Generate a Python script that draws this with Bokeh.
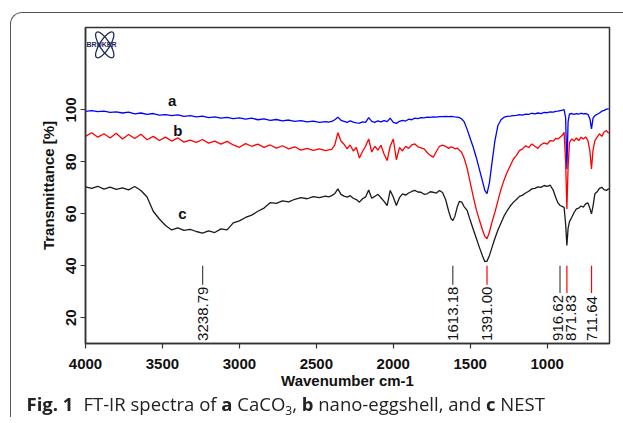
import math
from bokeh.plotting import figure
from bokeh.layouts import column
from bokeh.models import Range1d, FixedTicker, Label, Div
from bokeh.core.properties import value
from bokeh.embed import file_html
from bokeh.resources import INLINE

# ---------------- data ----------------
wavenumber = [
    4000, 3960, 3920, 3880, 3840, 3800, 3760, 3720, 3680, 3640,
    3600, 3560, 3520, 3480, 3440, 3400, 3360, 3320, 3280, 3240,
    3200, 3160, 3120, 3080, 3040, 3000, 2960, 2920, 2880, 2840,
    2800, 2760, 2720, 2680, 2640, 2600, 2560, 2520, 2480, 2440,
    2420, 2400, 2380, 2360, 2340, 2320, 2300, 2280, 2260, 2240,
    2220, 2200, 2180, 2160, 2140, 2120, 2100, 2080, 2060, 2040,
    2020, 2000, 1980, 1960, 1940, 1920, 1900, 1880, 1860, 1840,
    1820, 1800, 1780, 1760, 1740, 1720, 1700,
    1680, 1660, 1640, 1625, 1613, 1600, 1585, 1570, 1555, 1540,
    1520, 1500, 1480, 1460, 1440, 1420, 1405, 1391, 1375, 1360,
    1340, 1320, 1300, 1280, 1260, 1240, 1220, 1200, 1180, 1160,
    1140, 1120, 1100, 1080, 1060, 1040, 1020, 1000, 980, 960,
    945, 930, 916, 900, 890, 880, 872, 864, 855, 840,
    825, 810, 795, 780, 765, 750, 735, 722, 712, 702,
    690, 675, 660, 645, 630, 615, 600,
]

# a: CaCO3 (blue)
trans_a = [
    99.4, 99.7, 99.3, 99.5, 99.0, 99.2, 98.8, 99.1, 98.5, 98.8,
    98.3, 98.6, 98.0, 98.2, 97.8, 98.1, 97.5, 97.8, 97.3, 97.6,
    97.0, 97.3, 96.8, 97.1, 96.6, 96.9, 96.4, 96.8, 96.2, 96.5,
    96.0, 96.3, 95.8, 96.1, 95.6, 95.9, 95.4, 95.7, 95.2, 95.5,
    95.3, 95.6, 96.2, 97.2, 96.0, 95.6, 95.2, 95.8, 95.3, 95.0,
    94.9, 95.4, 95.2, 97.0, 95.6, 95.2, 95.8, 95.4, 95.9, 95.5,
    96.8, 95.2, 94.8, 95.6, 96.0, 95.7, 96.4, 96.2, 96.8, 96.6,
    97.0, 96.9, 97.2, 97.1, 97.3, 97.2, 97.4,
    97.4, 97.5, 97.4, 97.5, 97.4, 97.3, 97.2, 97.0, 96.5, 95.5,
    92.5, 89.0, 85.5, 81.5, 77.0, 72.5, 69.0, 67.8, 72.0, 79.0,
    88.0, 94.0, 96.2, 97.2, 97.5, 97.6, 97.8, 97.9, 98.2, 98.0,
    98.4, 98.3, 98.7, 98.5, 98.8, 98.6, 99.0, 98.9, 99.2, 99.1,
    99.4, 99.5, 99.7, 99.9, 100.1, 97.0, 77.3, 95.5, 98.5, 98.6,
    98.3, 98.6, 98.4, 98.7, 98.5, 98.6, 98.3, 96.5, 92.7, 96.8,
    97.8, 98.3, 98.8, 99.5, 99.8, 100.3, 100.4,
]

# b: nano-eggshell (red)
trans_b = [
    89.8, 91.2, 89.5, 90.8, 89.2, 91.0, 88.8, 90.5, 89.0, 90.6,
    88.5, 89.8, 88.2, 89.5, 88.0, 89.2, 87.6, 88.4, 87.5, 88.6,
    87.2, 88.0, 86.8, 87.9, 86.5, 85.6, 87.0, 86.0, 86.8, 85.6,
    86.5, 85.3, 86.2, 85.0, 85.8, 84.5, 85.2, 84.4, 85.0, 84.3,
    84.6, 84.8, 86.5, 91.2, 88.0, 86.8, 85.0, 86.5, 84.2, 85.5,
    81.5, 84.0, 86.0, 88.8, 83.8, 86.0, 84.5, 86.4, 83.0, 80.5,
    86.0, 88.8, 80.8, 85.5, 84.2, 86.0, 85.2, 86.5, 86.9, 85.8,
    85.4, 85.0, 83.6, 82.5, 81.8, 84.0, 86.0,
    86.4, 86.0, 85.2, 85.8, 85.6, 85.0, 85.3, 84.5, 83.6, 81.5,
    77.5, 72.0, 66.5, 61.5, 57.5, 53.8, 51.3, 50.4, 53.0, 56.5,
    60.5, 65.0, 69.5, 73.0, 76.0, 78.5, 81.0, 82.5, 84.3, 85.0,
    86.2, 85.5, 86.9, 86.0, 85.2, 86.6, 87.3, 86.8, 88.2, 88.0,
    89.0, 88.8, 89.5, 90.3, 91.4, 80.0, 61.9, 78.0, 87.5, 88.8,
    88.0, 89.2, 88.2, 89.5, 88.8, 89.6, 88.2, 84.0, 77.3, 84.5,
    88.2, 89.5, 90.8, 89.8, 91.5, 92.0, 91.0,
]

# c: NEST (black)
trans_c = [
    70.4, 69.8, 70.6, 69.5, 70.3, 69.4, 70.0, 69.2, 70.5, 69.0,
    66.5, 61.0, 58.0, 55.5, 53.8, 54.6, 53.6, 54.0, 53.2, 52.6,
    53.4, 52.8, 54.2, 53.8, 56.5, 57.3, 58.6, 59.5, 61.0, 62.2,
    64.3, 64.0, 65.0, 64.6, 65.6, 66.2, 65.8, 66.6, 66.2, 66.8,
    66.5, 67.0, 67.8, 69.6, 67.5, 66.8, 66.4, 67.0, 66.0, 65.5,
    64.5, 65.8, 66.5, 69.2, 66.0, 66.7, 67.5, 66.2, 64.8, 63.2,
    69.0, 66.5, 63.2, 66.2, 67.7, 67.2, 68.0, 68.6, 69.0, 68.4,
    68.3, 67.5, 67.7, 68.5, 68.3, 68.0, 69.0,
    68.2, 65.5, 61.0, 58.2, 57.4, 59.0, 62.5, 64.8, 64.5, 62.8,
    61.3, 57.5, 54.0, 50.5, 47.0, 43.8, 41.6, 41.8, 44.0, 46.8,
    50.5, 53.8, 56.5, 59.2, 61.2, 63.0, 64.4, 65.5, 66.7, 67.2,
    68.0, 68.7, 69.6, 69.8, 70.4, 70.2, 70.9, 70.6, 71.0, 69.0,
    66.4, 64.2, 63.2, 62.8, 62.5, 56.0, 47.8, 54.5, 57.0, 58.7,
    60.5, 61.9, 62.2, 63.0, 62.6, 63.8, 64.2, 62.0, 60.0, 63.0,
    67.7, 68.5, 69.8, 70.2, 69.3, 69.0, 69.7,
]

series_names = ["a", "b", "c"]
series_label_wn = [3437, 3400, 3371]
series_label_t = [103.6, 92.0, 60.2]

peak_wn = [3238.79, 1613.18, 1391.00, 916.62, 871.83, 711.64]
peak_labels = ["3238.79", "1613.18", "1391.00", "916.62", "871.83", "711.64"]

x_ticks = [4000, 3500, 3000, 2500, 2000, 1500, 1000]
y_ticks = [20, 40, 60, 80, 100]

x_title = "Wavenumber cm-1"
y_title = "Transmittance [%]"

assert len(wavenumber) == len(trans_a) == len(trans_b) == len(trans_c)

# ---------------- styles ----------------
series_colors = ["#0000FF", "#FF0000", "#1a1a1a"]
peak_colors = ["#444444", "#444444", "#FF0000", "#444444", "#FF0000", "#FF0000"]
peak_text_dx = [0, 0, 0, -2, 4, 0]
AX_FONT = "Liberation Sans"
CAP_FONT = "Open Sans"
FRAME = "#333333"

p = figure(width=623, height=422, output_backend="svg", toolbar_location=None,
           x_range=Range1d(4000, 595), y_range=Range1d(10.1, 131.7),
           min_border_left=85, min_border_right=14, min_border_top=27,
           min_border_bottom=79)
p.background_fill_color = "white"
p.border_fill_color = "white"
p.grid.visible = False
p.outline_line_color = FRAME
p.outline_line_width = 1.5

for ax, ticks in ((p.xaxis, x_ticks), (p.yaxis, y_ticks)):
    ax.ticker = FixedTicker(ticks=ticks)
    ax.minor_tick_line_color = None
    ax.major_tick_in = 0
    ax.major_tick_out = 5
    ax.axis_line_color = FRAME
    ax.axis_line_width = 1.5
    ax.major_tick_line_color = FRAME
    ax.major_tick_line_width = 1.2
    ax.major_label_text_font = AX_FONT
    ax.major_label_text_font_size = "15px"
    ax.major_label_text_font_style = "bold"
    ax.major_label_text_color = "#111111"
    ax.axis_label_text_font = AX_FONT
    ax.axis_label_text_font_size = "15px"
    ax.axis_label_text_font_style = "bold"
    ax.axis_label_text_color = "#111111"
p.yaxis.major_label_orientation = "vertical"
p.xaxis.major_label_standoff = 10
p.yaxis.major_label_standoff = 4
p.xaxis.axis_label = x_title
p.yaxis.axis_label = y_title
p.xaxis.axis_label_standoff = 0
p.yaxis.axis_label_standoff = 7

# spectra
for t, col in zip([trans_a, trans_b, trans_c], series_colors):
    p.line(wavenumber, t, line_color=col, line_width=1.3)

p.text(x=series_label_wn, y=series_label_t, text=series_names,
       text_font=value(AX_FONT), text_font_size="15px", text_font_style="bold",
       text_align="center", text_baseline="middle", text_color="#111111")

# peak markers: vertical tick from T=40 down to the top of the rotated label
px_per_unit = 316 / (131.7 - 10.1)
label_font_px = 15
text_anchor_t = 11.1
line_bottom = []
for lab in peak_labels:
    em = sum(0.278 if ch == "." else 0.556 for ch in lab)
    line_bottom.append(text_anchor_t + (em * label_font_px + 2) / px_per_unit)
p.segment(x0=peak_wn, y0=[40] * len(peak_wn), x1=peak_wn, y1=line_bottom,
          line_color=peak_colors, line_width=1.2)
p.text(x=peak_wn, y=[text_anchor_t] * len(peak_wn), text=peak_labels,
       x_offset=peak_text_dx, angle=math.pi / 2,
       text_font=value(AX_FONT), text_font_size=f"{label_font_px}px",
       text_align="left", text_baseline="middle", text_color="#111111")

# Bruker logo (decoration)
p.ellipse(x=[3875, 3875], y=[125.0, 125.0], width=[30, 30], height=[10, 10],
          width_units="screen", height_units="screen", angle=[1.0, -1.0],
          fill_alpha=0, line_color="#1f2a5c", line_width=1.3)
p.add_layout(Label(x=101, y=44, x_units="canvas", y_units="canvas",
                   text="BRUKER", text_align="center", text_baseline="middle",
                   text_font=AX_FONT, text_font_size="7px", text_font_style="bold",
                   text_color="#1f2a5c"))

# caption and panel frame (HTML, fixed to the page)
caption_html = (
    '<div style="position:fixed; left:10px; top:12px; width:700px; height:405px;'
    ' border-top:1.5px solid #555; border-left:1.5px solid #555;'
    ' border-top-left-radius:12px; pointer-events:none;"></div>'
    '<div style="position:fixed; left:26.5px; top:395px; white-space:nowrap;'
    ' font-family:\'Open Sans\'; font-size:18.5px; line-height:18px; color:#222;">'
    '<b>Fig. 1</b><span style="margin-left:10px">FT-IR spectra of </span>'
    '<b>a</b> CaCO<span style="font-size:12px; vertical-align:-4px; line-height:0">3</span>, '
    '<b>b</b> nano-eggshell, and <b>c</b> NEST</div>'
)
caption = Div(text=caption_html, width=623, height=1,
              styles={"font-family": CAP_FONT})

layout = column(p, caption, spacing=0)
open("out.html", "w").write(file_html(layout, INLINE))
